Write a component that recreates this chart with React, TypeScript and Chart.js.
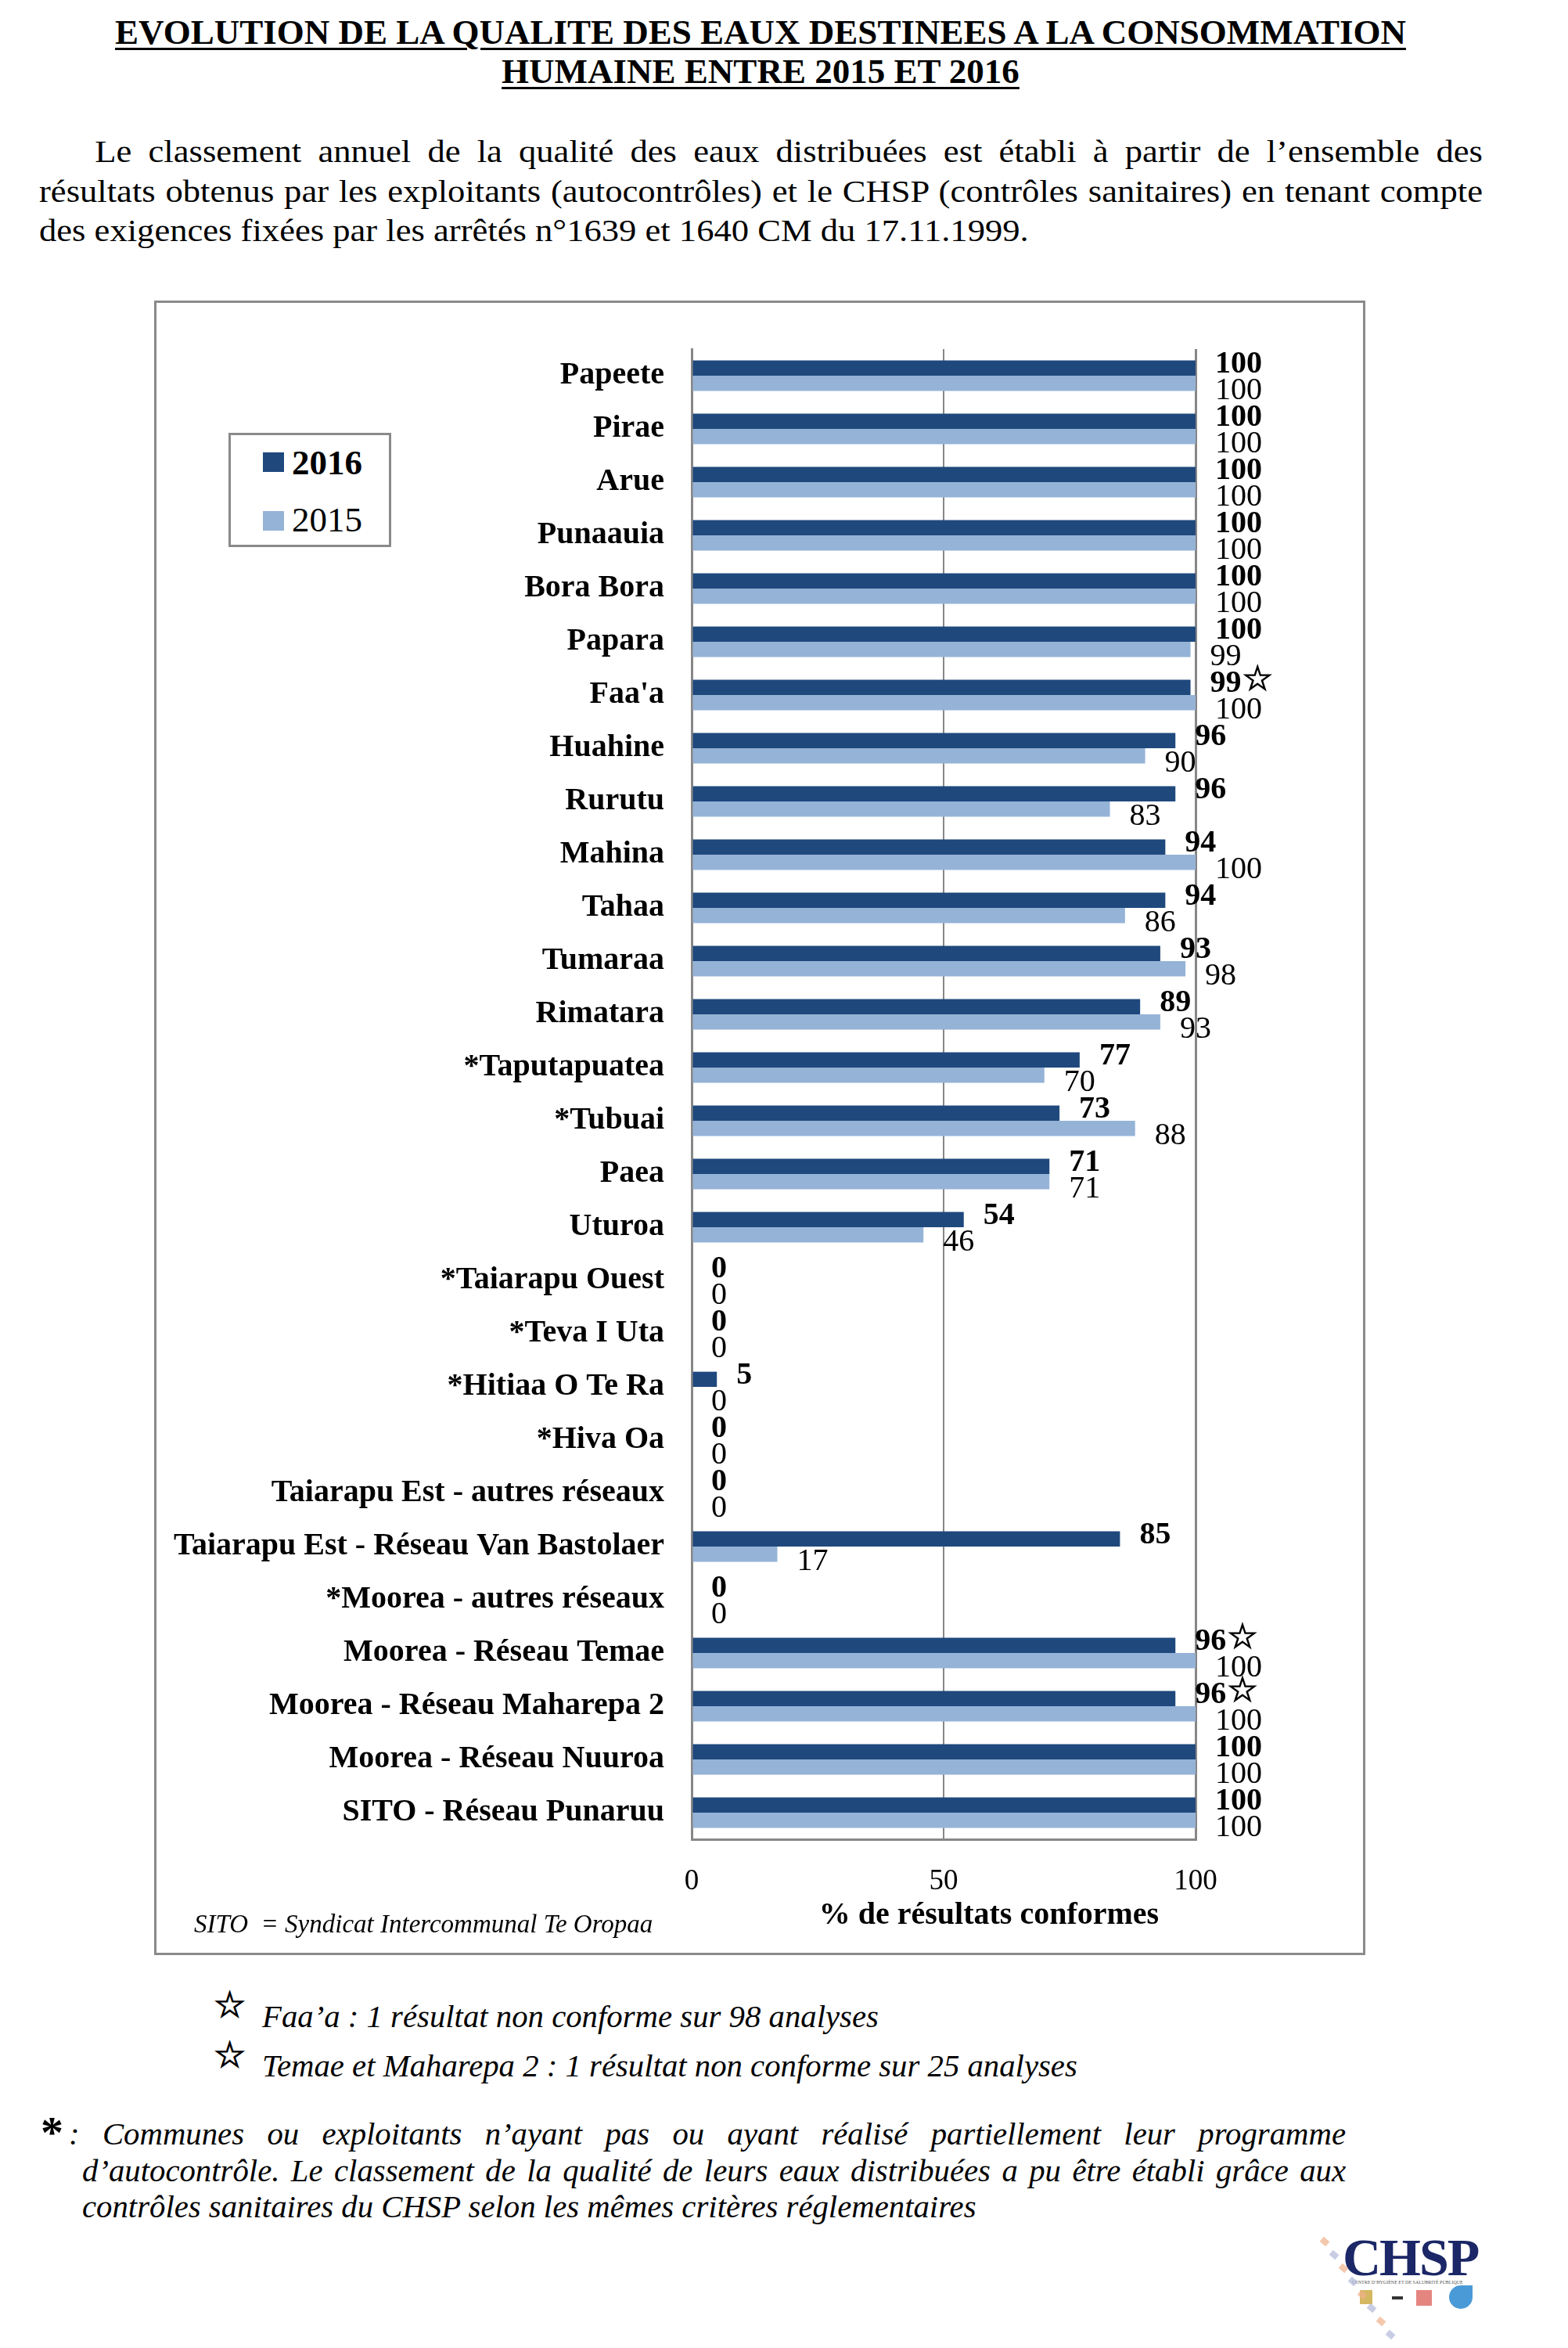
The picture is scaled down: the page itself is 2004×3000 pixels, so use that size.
import React, { useEffect, useRef } from 'react';
import { Chart, registerables } from 'chart.js';

Chart.register(...registerables);

const categories = [
  'Papeete', 'Pirae', 'Arue', 'Punaauia', 'Bora Bora', 'Papara', "Faa'a", 'Huahine', 'Rurutu',
  'Mahina', 'Tahaa', 'Tumaraa', 'Rimatara', '*Taputapuatea', '*Tubuai', 'Paea', 'Uturoa',
  '*Taiarapu Ouest', '*Teva I Uta', '*Hitiaa O Te Ra', '*Hiva Oa', 'Taiarapu Est - autres réseaux',
  'Taiarapu Est - Réseau Van Bastolaer', '*Moorea - autres réseaux', 'Moorea - Réseau Temae',
  'Moorea - Réseau Maharepa 2', 'Moorea - Réseau Nuuroa', 'SITO - Réseau Punaruu',
];
const values2016 = [100, 100, 100, 100, 100, 100, 99, 96, 96, 94, 94, 93, 89, 77, 73, 71, 54, 0, 0, 5, 0, 0, 85, 0, 96, 96, 100, 100];
const values2015 = [100, 100, 100, 100, 100, 99, 100, 90, 83, 100, 86, 98, 93, 70, 88, 71, 46, 0, 0, 0, 0, 0, 17, 0, 100, 100, 100, 100];
const marks2016 = ['', '', '', '', '', '', '☆', '', '', '', '', '', '', '', '', '', '', '', '', '', '', '', '', '', '☆', '☆', '', ''];
const seriesNames = ['2016', '2015'];
const seriesColors = ['#1F497D', '#95B3D7'];
const xTickStep = 50;
const xMax = 100;
const axisTitle = '% de résultats conformes';

const SERIF = '"Liberation Serif", "Times New Roman", "DejaVu Sans", serif';
const GRID = '#878787';

function T(props: {
  x: number; y: number; size: number; children: any; style?: any; w?: number; justify?: boolean; sx?: number;
}) {
  const { x, y, size, children, style, w, justify, sx } = props;
  const k = sx || 1;
  const s: any = {
    position: 'absolute',
    left: x,
    top: y - 0.8375 * size,
    fontSize: size,
    lineHeight: size + 'px',
    whiteSpace: 'nowrap',
    margin: 0,
    ...style,
  };
  if (k !== 1) {
    s.transform = `scaleX(${k})`;
    s.transformOrigin = '0 0';
  }
  if (w !== undefined) s.width = w / k;
  if (justify) {
    s.textAlign = 'justify';
    s.textAlignLast = 'justify';
  }
  return <div style={s}>{children}</div>;
}

function Star(props: { x: number; y: number }) {
  return (
    <div
      style={{
        position: 'absolute',
        left: props.x,
        top: props.y,
        fontFamily: '"DejaVu Sans", sans-serif',
        fontSize: 46,
        lineHeight: '46px',
        WebkitTextStroke: '1.2px #000',
      }}
    >
      ☆
    </div>
  );
}

const dataLabelPlugin = {
  id: 'dataLabels',
  afterDatasetsDraw(chart: any) {
    const ctx = chart.ctx;
    const xs = chart.scales.x;
    ctx.save();
    ctx.fillStyle = '#000';
    ctx.strokeStyle = '#000';
    ctx.textAlign = 'left';
    ctx.textBaseline = 'middle';
    chart.data.datasets.forEach((ds: any, di: number) => {
      const meta = chart.getDatasetMeta(di);
      meta.data.forEach((bar: any, i: number) => {
        const v = ds.data[i];
        const text = String(v);
        const px = xs.getPixelForValue(v) + 25;
        const py = bar.y + (di === 0 ? -5 : 10);
        ctx.font = (di === 0 ? 'bold ' : '') + '40px ' + SERIF;
        ctx.fillText(text, px, py);
        const mark = di === 0 ? marks2016[i] : '';
        if (mark) {
          const wNum = ctx.measureText(text).width;
          ctx.font = '44px "DejaVu Sans", sans-serif';
          ctx.lineWidth = 1.2;
          ctx.fillText(mark, px + wNum + 1, py - 3);
          ctx.strokeText(mark, px + wNum + 1, py - 3);
        }
      });
    });
    ctx.restore();
  },
};

const axisTitlePlugin = {
  id: 'axisTitleOffset',
  afterDraw(chart: any) {
    const ctx = chart.ctx;
    const a = chart.chartArea;
    ctx.save();
    ctx.fillStyle = '#000';
    ctx.font = 'bold 40px ' + SERIF;
    ctx.textAlign = 'center';
    ctx.textBaseline = 'middle';
    ctx.fillText(axisTitle, a.left + (a.right - a.left) * 0.59, a.bottom + 98);
    ctx.restore();
  },
};

function BarChart() {
  const ref = useRef<HTMLCanvasElement | null>(null);
  useEffect(() => {
    if (!ref.current) return;
    const chart = new Chart(ref.current, {
      type: 'bar',
      data: {
        labels: categories,
        datasets: [
          {
            label: seriesNames[0],
            data: values2016,
            backgroundColor: seriesColors[0],
            borderWidth: 0,
            categoryPercentage: 0.57,
            barPercentage: 1,
          },
          {
            label: seriesNames[1],
            data: values2015,
            backgroundColor: seriesColors[1],
            borderWidth: 0,
            categoryPercentage: 0.57,
            barPercentage: 1,
          },
        ],
      },
      options: {
        indexAxis: 'y',
        responsive: false,
        animation: false,
        devicePixelRatio: 1,
        layout: { padding: { top: 51, right: 214, left: 0, bottom: 0 } },
        plugins: {
          legend: { display: false },
          tooltip: { enabled: false },
        },
        scales: {
          x: {
            min: 0,
            max: xMax,
            ticks: {
              stepSize: xTickStep,
              color: '#000',
              padding: 32,
              font: { family: SERIF, size: 37 },
            },
            grid: {
              color: GRID,
              lineWidth: (c: any) => (c.tick && c.tick.value === 50 ? 2 : 3),
              drawTicks: false,
            },
            border: { display: true, color: GRID, width: 3 },
            afterFit: (s: any) => {
              s.height = 145;
            },
          },
          y: {
            ticks: {
              autoSkip: false,
              color: '#000',
              padding: 35,
              font: { family: SERIF, size: 40, weight: 'bold' },
            },
            grid: { display: false, drawTicks: false },
            border: { display: true, color: GRID, width: 3 },
            afterFit: (s: any) => {
              s.width = 684;
            },
          },
        },
      } as any,
      plugins: [dataLabelPlugin, axisTitlePlugin],
    });
    return () => chart.destroy();
  }, []);
  return (
    <canvas
      ref={ref}
      width={1542}
      height={2108}
      style={{ position: 'absolute', left: 200, top: 387, width: 1542, height: 2108 }}
    />
  );
}

export default function App() {
  return (
    <div
      style={{
        position: 'absolute',
        left: 0,
        top: 0,
        width: 2004,
        height: 3000,
        background: '#fff',
        color: '#000',
        fontFamily: SERIF,
        overflow: 'hidden',
      }}
    >
      {/* Title */}
      {['EVOLUTION DE LA QUALITE DES EAUX DESTINEES A LA CONSOMMATION', 'HUMAINE ENTRE 2015 ET 2016'].map((line, i) => (
        <div
          key={i}
          style={{
            position: 'absolute',
            left: 0,
            width: 1944,
            top: (i === 0 ? 57 : 107) - 0.8375 * 45,
            fontSize: 45,
            lineHeight: '45px',
            fontWeight: 'bold',
            textAlign: 'center',
            whiteSpace: 'nowrap',
          }}
        >
          <span style={{ textDecoration: 'underline', textDecorationThickness: '3px', textUnderlineOffset: '5px' }}>{line}</span>
        </div>
      ))}

      {/* Intro paragraph */}
      <T x={50} y={207} size={40} w={1845} sx={1.115} justify style={{ textIndent: 64 }}>
        Le classement annuel de la qualité des eaux distribuées est établi à partir de l’ensemble des
      </T>
      <T x={50} y={258} size={40} w={1845} sx={1.115} justify>
        résultats obtenus par les exploitants (autocontrôles) et le CHSP (contrôles sanitaires) en tenant compte
      </T>
      <T x={50} y={308} size={40} sx={1.115}>
        des exigences fixées par les arrêtés n°1639 et 1640 CM du 17.11.1999.
      </T>

      {/* Chart frame */}
      <div
        style={{
          position: 'absolute',
          left: 197,
          top: 384,
          width: 1548,
          height: 2114,
          border: '3px solid #8a8a8a',
          boxSizing: 'border-box',
        }}
      />
      <BarChart />

      {/* Legend */}
      <div
        style={{
          position: 'absolute',
          left: 292,
          top: 553,
          width: 208,
          height: 146,
          border: '3px solid #8a8a8a',
          boxSizing: 'border-box',
          background: '#fff',
        }}
      />
      {seriesNames.map((name, i) => (
        <React.Fragment key={name}>
          <div
            style={{
              position: 'absolute',
              left: 336,
              top: i === 0 ? 578 : 653,
              width: 27,
              height: 25,
              background: seriesColors[i],
            }}
          />
          <T x={373} y={i === 0 ? 607 : 680} size={45} style={{ fontWeight: i === 0 ? 'bold' : 'normal' }}>
            {name}
          </T>
        </React.Fragment>
      ))}

      {/* SITO note */}
      <T x={248} y={2470} size={33} style={{ fontStyle: 'italic' }}>
        SITO&nbsp;&nbsp;= Syndicat Intercommunal Te Oropaa
      </T>

      {/* Star footnotes */}
      <Star x={273} y={2538} />
      <T x={335} y={2590} size={39} sx={1.045} style={{ fontStyle: 'italic' }}>
        Faa’a : 1 résultat non conforme sur 98 analyses
      </T>
      <Star x={273} y={2602} />
      <T x={335} y={2653} size={39} sx={1.045} style={{ fontStyle: 'italic' }}>
        Temae et Maharepa 2 : 1 résultat non conforme sur 25 analyses
      </T>

      {/* Asterisk footnote */}
      <T x={52} y={2745} size={58} style={{ fontWeight: 'bold' }}>
        *
      </T>
      <T x={88} y={2740} size={39} w={1632} sx={1.045} justify style={{ fontStyle: 'italic' }}>
        : Communes ou exploitants n’ayant pas ou ayant réalisé partiellement leur programme
      </T>
      <T x={105} y={2787} size={39} w={1615} sx={1.045} justify style={{ fontStyle: 'italic' }}>
        d’autocontrôle. Le classement de la qualité de leurs eaux distribuées a pu être établi grâce aux
      </T>
      <T x={105} y={2833} size={39} sx={1.045} style={{ fontStyle: 'italic' }}>
        contrôles sanitaires du CHSP selon les mêmes critères réglementaires
      </T>

      {/* CHSP logo */}
      <T x={1716} y={2907} size={68} style={{ fontWeight: 'bold', color: '#1b2766', letterSpacing: -2 }}>
        CHSP
      </T>
      <T x={1728} y={2918} size={6} style={{ color: '#555' }}>
        CENTRE D’HYGIÈNE ET DE SALUBRITÉ PUBLIQUE
      </T>
      <div style={{ position: 'absolute', left: 1738, top: 2926, width: 16, height: 18, background: '#c9a53a', opacity: 0.8 }} />
      <div style={{ position: 'absolute', left: 1779, top: 2934, width: 14, height: 4, background: '#333' }} />
      <div style={{ position: 'absolute', left: 1810, top: 2926, width: 20, height: 20, background: '#e0706a', opacity: 0.85 }} />
      <div style={{ position: 'absolute', left: 1852, top: 2920, width: 30, height: 30, borderRadius: '50% 0 50% 50%', background: '#4a9ad8' }} />
      {[0, 1, 2, 3, 4, 5, 6, 7].map((k) => (
        <div
          key={k}
          style={{
            position: 'absolute',
            left: 1688 + k * 12,
            top: 2860 + k * 17,
            width: 10,
            height: 8,
            background: k % 2 === 0 ? '#f0b08a' : '#b0b8d8',
            opacity: 0.7,
            transform: 'rotate(40deg)',
          }}
        />
      ))}
    </div>
  );
}
